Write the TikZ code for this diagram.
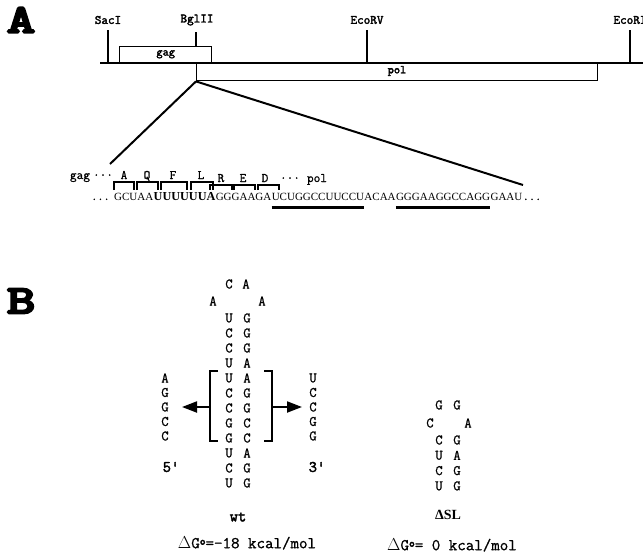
\documentclass[tikz,border=0pt]{standalone}
\usepackage{fontspec}
\setmainfont{Liberation Serif}
\newfontfamily\tyr[FakeBold=1]{Latin Modern Mono}
\newfontfamily\tyb[FakeBold=2.5]{Latin Modern Mono}
\newfontfamily\tyh[FakeBold=6]{Latin Modern Mono}
\usetikzlibrary{arrows.meta}
\begin{document}
\begin{tikzpicture}[x=1pt,y=-1pt,
  panel/.style={font=\tyh\fontsize{40}{40}\selectfont, inner sep=0},
  site/.style={font=\tyb\fontsize{12.8}{13}\selectfont, inner sep=0},
  gene/.style={draw, line width=1.4pt, inner sep=0, font=\tyb\fontsize{12}{12}\selectfont},
  map/.style={line width=1.6pt},
  zoomline/.style={line width=2pt},
  aa/.style={font=\tyr\fontsize{13}{13}\selectfont, inner sep=0, anchor=base},
  seq/.style={font=\fontsize{11}{12}\selectfont, inner sep=0, anchor=base west},
  seqb/.style={font=\bfseries\fontsize{12.2}{13}\selectfont, inner sep=0, anchor=base west},
  codon/.style={line width=1.3pt},
  uline/.style={line width=3pt},
  nt/.style={font=\tyr\fontsize{14.5}{15}\selectfont, inner sep=0},
  brk/.style={line width=1.8pt},
  bigarrow/.style={line width=2pt, -{Triangle[length=15pt,width=11pt]}},
  lbl/.style={font=\tyb\fontsize{16}{16}\selectfont, inner sep=0},
  dg/.style={font=\tyr\fontsize{16.5}{17}\selectfont, inner sep=0}
]
\useasboundingbox (0,0) rectangle (643,557);
\clip (0,0) rectangle (643,557);

% ---------- Panel A ----------
\node[panel] (pA) at (21,20) {\scalebox{1.35}[1]{A}};
\coordinate (m0) at (100,63);
\coordinate (m1) at (643,63);
\draw[map] (m0) -- (m1);

\node[gene, minimum width=92pt, minimum height=16pt, anchor=south west] (gag) at (119,63) {gag};
\node[gene, minimum width=401pt, minimum height=17pt, anchor=north west] (pol) at (196,63) {};
\node[gene, draw=none] (poltxt) at (397,71) {pol};

\node[site] (sac) at (108,20) {SacI};
\node[site] (bgl) at (197,20) {BglII};
\node[site] (ecv) at (367,20) {EcoRV};
\node[site] (eci) at (630,20) {EcoRI};
\draw[map] ([yshift=-6pt]sac.south) -- (sac.south |- m0);
\draw[map] (196,32) coordinate (bgt) -- (196,46) coordinate (bgb);
\draw[map] ([yshift=-6pt]ecv.south) -- (ecv.south |- m0);
\draw[map] ([yshift=-6pt]eci.south) -- (eci.south |- m0);

\coordinate (zl) at (110,164);
\coordinate (zr) at (523,185);
\draw[zoomline] (pol.south west) -- (zl);
\draw[zoomline] (pol.south west) -- (zr);

% amino acids
\node[aa] (ggag) at (80,179) {gag};
\node[aa] (gdots) at (103,179) {···};
\node[aa] (aA) at (124,179) {A};
\node[aa] (aQ) at (147,179) {Q};
\node[aa] (aF) at (173,179) {F};
\node[aa] (aL) at (201,179) {L};
\node[aa] (aR) at (221,182) {R};
\node[aa] (aE) at (243,182) {E};
\node[aa] (aD) at (265,182) {D};
\node[aa] (pdots) at (290,182) {···};
\node[aa] (ppol) at (317,182) {pol};

% codon brackets
\foreach \a/\b in {114/134,137/158,161/187,191/213}
  \draw[codon] (\a,190) |- (\b,182) -- (\b,190);
\foreach \a/\b in {210/232,234/255,258/279}
  \draw[codon] (\a,190) |- (\b,185) -- (\b,190);

% sequence
\node[seq, font=\tyr\fontsize{12}{12}\selectfont] (s0) at (91,200) {...};
\node[seq] (s1) at (114,200) {GCUAA};
\node[seqb] (s2) at (s1.base east) {UUUUUUA};
\node[seq] (s3) at (s2.base east) {GGGAAGA};
\node[seq] (s4) at (s3.base east) {UCUGGCCUUCCU};
\node[seq] (s5) at (s4.base east) {ACAA};
\node[seq] (s6) at (s5.base east) {GGGAAGGCCAGG};
\node[seq] (s7) at (s6.base east) {GAAU};
\node[seq, font=\tyr\fontsize{12}{12}\selectfont] (s8) at (s7.base east) {...};
\draw[uline] ([yshift=-7pt]s4.base west) -- ([yshift=-7pt]s4.base east);
\draw[uline] ([yshift=-7pt]s6.base west) -- ([yshift=-7pt]s6.base east);

% ---------- Panel B ----------
\node[panel] (pB) at (21,301) {\scalebox{1.35}[1]{B}};

% wt hairpin
\node[nt] (wt1) at (229,284) {C};
\node[nt] (wt2) at (246,284) {A};
\node[nt] (wt3) at (213,301) {A};
\node[nt] (wt4) at (262,301) {A};
\foreach \l/\r [count=\i from 0] in {U/G,C/G,C/G,U/A,U/A,C/G,C/G,G/C,G/C,U/A,C/G,U/G} {
  \node[nt] (wl\i) at (229,{318+15*\i}) {\l};
  \node[nt] (wr\i) at (247,{318+15*\i}) {\r};
}
\foreach \b [count=\i from 0] in {A,G,G,C,C}
  \node[nt] (fl\i) at (165,{378+14.5*\i}) {\b};
\foreach \b [count=\i from 0] in {U,C,C,G,G}
  \node[nt] (fr\i) at (313,{378+14.5*\i}) {\b};

\draw[brk] (218,371) -| (210,441) -- (218,441);
\draw[brk] (264,371) -| (272,441) -- (264,441);
\coordinate (lb) at (210,407);
\coordinate (rb) at (272,407);
\coordinate (la) at (182,407);
\coordinate (ra) at (302,407);
\draw[bigarrow] (lb) -- (la);
\draw[bigarrow] (rb) -- (ra);

\node[lbl] (p5) at (171,467) {5'};
\node[lbl] (p3) at (317,467) {3'};
\node[lbl] (wt) at (238,517) {wt};
\node[dg] (dg1) at (247,543) {$\Delta$G\raisebox{3.5pt}{\tyb\fontsize{11}{11}\selectfont o}=-18 kcal/mol};

% Delta SL hairpin
\node[nt] (d1) at (439,405) {G};
\node[nt] (d2) at (457,405) {G};
\node[nt] (d3) at (430,423) {C};
\node[nt] (d4) at (468,423) {A};
\foreach \l/\r [count=\i from 0] in {C/G,U/A,C/G,U/G} {
  \node[nt] (dl\i) at (439,{440+15.3*\i}) {\l};
  \node[nt] (dr\i) at (457,{440+15.3*\i}) {\r};
}
\node[font=\bfseries\fontsize{14}{14}\selectfont, inner sep=0] (dsl) at (448,515) {ΔSL};
\node[dg] (dg2) at (452,545) {$\Delta$G\raisebox{3.5pt}{\tyb\fontsize{11}{11}\selectfont o}= 0 kcal/mol};
\end{tikzpicture}
\end{document}
